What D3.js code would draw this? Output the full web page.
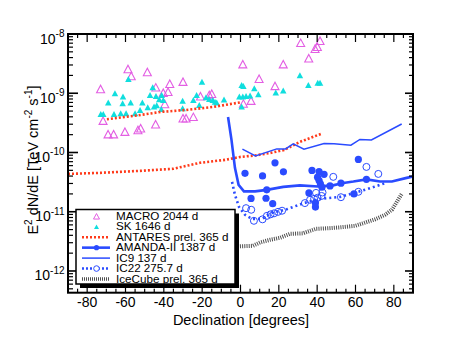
<!DOCTYPE html>
<html><head><meta charset="utf-8">
<script src="https://cdn.jsdelivr.net/npm/d3@7"></script>
<style>body{margin:0;background:#fff}svg{display:block}text{font-family:"Liberation Sans",Arial,Helvetica,sans-serif}</style>
</head><body><svg id="c" width="460" height="345"></svg>
<script>
// ---- data (declination in degrees, flux E^2 dN/dE in TeV cm^-2 s^-1) ----
const macroDec  = [-73.0,-71.7,-69.1,-66.2,-60.3,-58.7,-57.0,-53.5,-52.1,-48.6,-44.3,-44.2,-40.3,-37.8,-36.9,-39.5,-30.0,-30.0,-28.4,-24.6,-20.9,-16.3,-15.0,1.2,1.5,5.5,9.7,18.0,22.3,31.4,35.6,38.9,40.1,41.5];
const macroFlux = [1.18e-9,3.45e-10,2.04e-10,2.04e-10,2.25e-10,2.57e-9,1.96e-9,2.4e-10,2.57e-10,2.29e-9,3.0e-10,1.26e-9,1.02e-9,1.06e-9,1.45e-9,6.6e-10,1.57e-9,3.78e-10,3.78e-10,4.0e-10,8.9e-10,9.35e-10,9.8e-10,3.1e-9,6.7e-10,7.5e-10,1.76e-9,1.33e-9,3.1e-9,7.1e-9,3.9e-9,5.65e-9,6.1e-9,7.7e-9];
const skDec  = [-72.9,-71.6,-69.0,-65.5,-66.0,-62.5,-59.7,-61.5,-61.3,-57.3,-58.5,-55.0,-52.4,-51.2,-48.4,-47.2,-45.8,-45.1,-43.7,-44.1,-42.4,-41.1,-40.3,-41.3,-30.2,-30.2,-24.6,-22.9,-21.5,-20.1,-18.0,-16.3,-14.5,-13.3,-12.4,-8.6,-0.6,1.2,2.9,5.0,0.6,1.5,7.2,9.3,0.6,18.4,22.3,31.0,35.4,40.3,41.5];
const skFlux = [4.48e-10,4.48e-10,6.95e-10,1.0e-9,4.48e-10,4.6e-10,4.6e-10,6.8e-10,8.8e-10,6.95e-10,1.74e-9,4.6e-10,5.2e-10,6.95e-10,5.8e-10,9.35e-10,1.26e-9,5.95e-10,6.3e-10,9.0e-10,7.9e-10,9.35e-10,7.7e-10,5.4e-10,7.5e-10,5.6e-10,7.7e-10,9.35e-10,6.35e-10,1.57e-9,8.6e-10,8.0e-10,7.7e-10,7.2e-10,7.0e-10,7.85e-10,8.8e-10,8.85e-10,9.0e-10,9.2e-10,1.38e-9,1.33e-9,1.21e-9,9.65e-10,6.0e-10,1.03e-9,1.11e-9,2.01e-9,1.38e-9,1.51e-9,1.51e-9];
const antaresUpDec  = [-69.7,-55.6,-41.5,-28.4,-14.3,-0.3];
const antaresUpFlux = [3.65e-10,4.14e-10,4.84e-10,5.22e-10,5.87e-10,7.0e-10];
const antaresLoDec  = [-90,-73.3,-52.4,-35.2,-21.1,-8.1,-0.3,7.6,15.4,22.7,31.0,42.0];
const antaresLoFlux = [4.35e-11,4.53e-11,4.9e-11,5.3e-11,6.7e-11,7.5e-11,8.4e-11,8.9e-11,9.8e-11,1.1e-10,1.51e-10,2.06e-10];
const amandaLineDec  = [-6.5,-4.7,-2.9,-1.0,1.8,7.6,13.7,22.3,31.0,40.4,48.3,52.8,58.9,65.8,72.8,79.0,86.7,90];
const amandaLineFlux = [3.98e-10,1.63e-10,5.5e-11,2.84e-11,2.21e-11,2.21e-11,2.34e-11,2.63e-11,2.79e-11,2.66e-11,2.79e-11,3.03e-11,3.23e-11,3.52e-11,3.23e-11,3.23e-11,3.73e-11,3.95e-11];
const amandaPtDec  = [2.35,11.5,18.0,22.4,37.3,41.0,43.6,40.2,41.0,41.7,42.5,61.5,5.5,13.3,16.8,35.7,39.1,39.1,46.7,52.4,59.2,65.7,13.7];
const amandaPtFlux = [4.45e-11,4.03e-11,6.68e-11,4.71e-11,4.99e-11,4.76e-11,4.28e-11,3.83e-11,3.36e-11,2.95e-11,2.6e-11,7.65e-11,1.68e-11,1.69e-11,1.37e-11,2.08e-11,1.41e-11,1.2e-11,2.73e-11,3.03e-11,2.0e-11,3.52e-11,2.34e-11];
const ic9Dec  = [1.0,7.8,18.9,23.5,27.5,33.1,43.6,48.8,57.6,62.3,68.3,84.1];
const ic9Flux = [1.14e-10,8.77e-11,1.15e-10,1.15e-10,1.4e-10,1.14e-10,1.42e-10,1.4e-10,1.33e-10,1.66e-10,1.63e-10,3.03e-10];
const ic22LineDec  = [-4.4,-2.9,-0.8,2.35,6.0,11.2,16.4,24.1,32.8,41.5,51.9,58.9,65.8,75.4];
const ic22LineFlux = [3.19e-11,1.93e-11,1.21e-11,8.87e-12,7.59e-12,7.59e-12,9.57e-12,1.1e-11,1.39e-11,1.65e-11,1.78e-11,2.06e-11,2.39e-11,3.03e-11];
const ic22PtDec  = [2.9,5.6,7.0,11.5,13.8,15.7,17.5,19.6,21.7,33.6,36.3,38.4,40.2,42.3,42.8,48.4,65.7,71.9,52.4,61.5,39.4];
const ic22PtFlux = [1.15e-11,1.08e-11,7.03e-12,7.45e-12,8.53e-12,9.04e-12,9.4e-12,9.96e-12,1.04e-11,1.4e-11,1.59e-11,1.65e-11,1.72e-11,1.85e-11,2.11e-11,3.88e-11,5.71e-11,4.35e-11,1.76e-11,2.17e-11,2.08e-11];
const icecubeDec  = [-0.3,6.5,10.2,15.4,20.6,25.8,32.6,36.3,39.4,45.1,51.9,59.7,63.9,70.2,75.4,79.0,84.1];
const icecubeFlux = [2.61e-12,2.66e-12,3.03e-12,3.36e-12,3.63e-12,4.24e-12,4.32e-12,4.76e-12,5.15e-12,5.25e-12,5.45e-12,5.78e-12,6.37e-12,7.45e-12,8.87e-12,1.08e-11,1.99e-11];
const xTickLabels = [-80,-60,-40,-20,0,20,40,60,80];
const yTickExp = [-8,-9,-10,-11,-12];
const legendLabels = ["MACRO 2044 d","SK 1646 d","ANTARES prel. 365 d","AMANDA-II 1387 d","IC9 137 d","IC22 275.7 d","IceCube prel. 365 d"];

// ---- styles ----
const cMacro="#e35ee3", cSK="#10dede", cRed="#ff3a1a", cBlue="#2a4bff", cGray="#505050";

const svg=d3.select("#c");
const L=68,R=413,T=34,B=292.7;
const x=d3.scaleLinear().domain([-90,90]).range([L,R]);
const y=d3.scaleLog().domain([4.3e-13,1e-8]).range([B,T]);
const zip=(a,b)=>a.map((v,i)=>[v,b[i]]);

const plot=svg.append("g");
const line=d3.line().x(d=>x(d[0])).y(d=>y(d[1]));
const triUp=(cx,cy,w,h)=>`M${cx-w/2},${cy+h/2}L${cx+w/2},${cy+h/2}L${cx},${cy-h/2}Z`;

// MACRO open triangles
plot.selectAll(".macro").data(zip(macroDec,macroFlux)).join("path")
  .attr("d",d=>triUp(x(d[0]),y(d[1]),8,7.5)).attr("fill","none").attr("stroke",cMacro).attr("stroke-width",1.1);
// SK filled triangles
plot.selectAll(".sk").data(zip(skDec,skFlux)).join("path")
  .attr("d",d=>triUp(x(d[0]),y(d[1]),6.5,6)).attr("fill",cSK);
// ANTARES
[zip(antaresUpDec,antaresUpFlux),zip(antaresLoDec,antaresLoFlux)].forEach(s=>{
  plot.append("path").attr("d",line(s)).attr("fill","none").attr("stroke",cRed).attr("stroke-width",2.6).attr("stroke-dasharray","2,2");
});
// IceCube prel
plot.append("path").attr("d",line(zip(icecubeDec,icecubeFlux))).attr("fill","none").attr("stroke",cGray).attr("stroke-width",4).attr("stroke-dasharray","1,1.2");
// IC9
plot.append("path").attr("d",line(zip(ic9Dec,ic9Flux))).attr("fill","none").attr("stroke",cBlue).attr("stroke-width",1.5);
// AMANDA line
plot.append("path").attr("d",line(zip(amandaLineDec,amandaLineFlux))).attr("fill","none").attr("stroke",cBlue).attr("stroke-width",2.6);
// IC22 dotted line
plot.append("path").attr("d",line(zip(ic22LineDec,ic22LineFlux))).attr("fill","none").attr("stroke",cBlue).attr("stroke-width",2.6).attr("stroke-dasharray","2,3");
// AMANDA points
plot.selectAll(".am").data(zip(amandaPtDec,amandaPtFlux)).join("circle")
  .attr("cx",d=>x(d[0])).attr("cy",d=>y(d[1])).attr("r",3.6).attr("fill",cBlue);
// IC22 open circles
plot.selectAll(".ic22").data(zip(ic22PtDec,ic22PtFlux)).join("circle")
  .attr("cx",d=>x(d[0])).attr("cy",d=>y(d[1])).attr("r",3.5).attr("fill","none").attr("stroke",cBlue).attr("stroke-width",1);

// ---- frame & ticks ----
const ax=svg.append("g").attr("stroke","#000");
ax.append("rect").attr("x",L).attr("y",T).attr("width",R-L).attr("height",B-T).attr("fill","none").attr("stroke-width",2);
d3.range(-90,91,5).forEach(v=>{
  const major=v%20===0&&v!==-90&&v!==90; const px=x(v);
  const len=major?8:4;
  ax.append("line").attr("x1",px).attr("x2",px).attr("y1",B).attr("y2",B-len).attr("stroke-width",1.2);
  ax.append("line").attr("x1",px).attr("x2",px).attr("y1",T).attr("y2",T+len).attr("stroke-width",1.2);
});
y.ticks().forEach(v=>{
  const e=Math.log10(v); const major=Math.abs(e-Math.round(e))<1e-6; const py=y(v);
  ax.append("line").attr("x1",L).attr("x2",L+(major?10:5)).attr("y1",py).attr("y2",py).attr("stroke-width",major?1.6:1.2);
  ax.append("line").attr("x1",R).attr("x2",R-(major?8:4)).attr("y1",py).attr("y2",py).attr("stroke-width",major?1.6:1.2);
});
// tick labels
svg.selectAll(".xl").data(xTickLabels).join("text").attr("x",d=>x(d)).attr("y",307)
  .attr("text-anchor","middle").attr("font-size",14).text(d=>String(d));
yTickExp.forEach(e=>{
  const t=svg.append("text").attr("x",64.5).attr("y",y(Math.pow(10,e))+9.5).attr("text-anchor","end").attr("font-size",14);
  t.append("tspan").text("10");
  t.append("tspan").attr("font-size",10).attr("dy",-6.5).text(String(e));
});
// axis titles
svg.append("text").attr("x",241).attr("y",325).attr("text-anchor","middle").attr("font-size",14.5).text("Declination [degrees]");
const yt=svg.append("text").attr("transform","translate(38,160) rotate(-90)").attr("text-anchor","middle").attr("font-size",14.5);
yt.append("tspan").text("E");
yt.append("tspan").attr("font-size",10).attr("dy",-6).text("2");
yt.append("tspan").attr("dy",6).text(" dN/dE [TeV cm");
yt.append("tspan").attr("font-size",10).attr("dy",-6).text("-2");
yt.append("tspan").attr("dy",6).text(" s");
yt.append("tspan").attr("font-size",10).attr("dy",-6).text("-1");
yt.append("tspan").attr("dy",6).text("]");

// ---- legend ----
const lg=svg.append("g");
lg.append("rect").attr("x",80).attr("y",213.5).attr("width",159).attr("height",74.5).attr("fill","#000");
lg.append("rect").attr("x",76).attr("y",209.5).attr("width",159).attr("height",74.5).attr("fill","#fff").attr("stroke","#000").attr("stroke-width",1.5);
legendLabels.forEach((lab,i)=>{
  const by=220+i*10.45, sy=by-3.7;
  lg.append("text").attr("transform",`translate(116,${by}) scale(1.08,1)`).attr("font-size",10.8).text(lab);
  const x1=82,x2=110,xm=96.5;
  if(i===0) lg.append("path").attr("d",triUp(xm,sy,6,5.5)).attr("fill","none").attr("stroke",cMacro).attr("stroke-width",1);
  if(i===1) lg.append("path").attr("d",triUp(xm,sy,5,4.5)).attr("fill",cSK);
  if(i===2) lg.append("line").attr("x1",x1).attr("x2",x2).attr("y1",sy).attr("y2",sy).attr("stroke",cRed).attr("stroke-width",2.4).attr("stroke-dasharray","2,2");
  if(i===3){lg.append("line").attr("x1",x1).attr("x2",x2).attr("y1",sy).attr("y2",sy).attr("stroke",cBlue).attr("stroke-width",2.6);
    lg.append("circle").attr("cx",xm).attr("cy",sy).attr("r",2.6).attr("fill",cBlue);}
  if(i===4) lg.append("line").attr("x1",x1).attr("x2",x2).attr("y1",sy).attr("y2",sy).attr("stroke",cBlue).attr("stroke-width",1.5);
  if(i===5){lg.append("line").attr("x1",x1).attr("x2",x2).attr("y1",sy).attr("y2",sy).attr("stroke",cBlue).attr("stroke-width",2.4).attr("stroke-dasharray","2,2");
    lg.append("circle").attr("cx",xm).attr("cy",sy).attr("r",2.8).attr("fill","#fff").attr("stroke",cBlue).attr("stroke-width",1);}
  if(i===6) lg.append("line").attr("x1",x1).attr("x2",x2).attr("y1",sy).attr("y2",sy).attr("stroke",cGray).attr("stroke-width",3.5).attr("stroke-dasharray","1,1");
});
</script></body></html>
